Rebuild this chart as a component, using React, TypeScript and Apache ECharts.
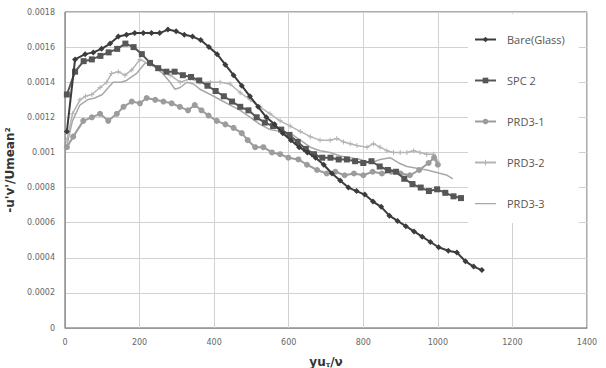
import React, { useEffect, useRef } from "react";
import * as echarts from "echarts";

// ---- Data ----
const bareX = [5, 27, 54, 76, 98, 121, 143, 165, 187, 210, 232, 254, 276, 298, 320, 342, 364, 386, 408, 430, 452, 474, 496, 518, 540, 562, 584, 606, 628, 650, 672, 694, 716, 738, 760, 782, 804, 826, 848, 870, 892, 914, 936, 958, 980, 1002, 1028, 1051, 1074, 1096, 1118];
const bareY = [0.00112, 0.00153, 0.00156, 0.00157, 0.00159, 0.00162, 0.00166, 0.00167, 0.00168, 0.00168, 0.00168, 0.00168, 0.0017, 0.00169, 0.00167, 0.00166, 0.00164, 0.0016, 0.00156, 0.0015, 0.00144, 0.00138, 0.00132, 0.00126, 0.0012, 0.00116, 0.00111, 0.00107, 0.00103, 0.001, 0.00097, 0.00093, 0.00088, 0.00084, 0.0008, 0.00078, 0.00076, 0.00072, 0.00069, 0.00064, 0.00061, 0.00058, 0.00055, 0.00052, 0.00049, 0.00046, 0.00044, 0.00043, 0.00038, 0.00035, 0.00033];

const spcX = [5, 27, 50, 72, 95, 117, 140, 162, 184, 206, 228, 250, 272, 294, 316, 338, 360, 382, 404, 426, 448, 470, 492, 514, 536, 558, 580, 602, 624, 646, 668, 690, 712, 734, 756, 778, 800, 822, 844, 866, 888, 910, 932, 954, 976, 998, 1020, 1042, 1062];
const spcY = [0.00133, 0.00146, 0.00152, 0.00153, 0.00155, 0.00157, 0.00159, 0.00162, 0.0016, 0.00156, 0.00151, 0.00148, 0.00146, 0.00146, 0.00144, 0.00143, 0.00141, 0.00138, 0.00135, 0.00132, 0.00129, 0.00126, 0.00124, 0.0012, 0.00117, 0.00115, 0.00113, 0.0011, 0.00106, 0.00102, 0.00099, 0.00097, 0.00097, 0.00096, 0.00096, 0.00095, 0.00094, 0.00095, 0.00092, 0.0009, 0.00089, 0.00085, 0.00082, 0.0008, 0.00078, 0.00079, 0.00077, 0.00075, 0.00074];

const prd1X = [5, 22, 49, 72, 94, 116, 139, 157, 179, 201, 219, 242, 264, 286, 308, 330, 348, 366, 385, 407, 430, 452, 474, 490, 510, 532, 555, 577, 599, 626, 649, 676, 702, 725, 750, 775, 800, 825, 850, 875, 900, 925, 950, 975, 990, 1000];
const prd1Y = [0.00103, 0.00109, 0.00118, 0.0012, 0.00122, 0.00118, 0.00122, 0.00126, 0.00129, 0.00128, 0.00131, 0.0013, 0.00129, 0.00128, 0.00126, 0.00124, 0.00127, 0.00124, 0.00121, 0.00118, 0.00116, 0.00114, 0.00111, 0.00107, 0.00103, 0.00103, 0.001, 0.00099, 0.00097, 0.00096, 0.00093, 0.0009, 0.00088, 0.00089, 0.00087, 0.00088, 0.00087, 0.00089, 0.00088, 0.00089, 0.00088, 0.00087, 0.0009, 0.00094, 0.00097, 0.00093];

const prd2X = [5, 20, 40, 55, 72, 94, 112, 125, 143, 161, 179, 201, 228, 255, 282, 309, 336, 362, 390, 416, 443, 470, 497, 523, 550, 577, 604, 631, 658, 684, 711, 729, 747, 765, 783, 810, 827, 845, 863, 881, 899, 917, 935, 952, 970, 989, 998];
const prd2Y = [0.00107, 0.00122, 0.0013, 0.00132, 0.00133, 0.00137, 0.0014, 0.00145, 0.00146, 0.00144, 0.00147, 0.00153, 0.0015, 0.00147, 0.00144, 0.0014, 0.00142, 0.0014, 0.0014, 0.0014, 0.00139, 0.00134, 0.0013, 0.00126, 0.00122, 0.00118, 0.00115, 0.00112, 0.00109, 0.00107, 0.00107, 0.00108, 0.00106, 0.00105, 0.00104, 0.00103, 0.00105, 0.00103, 0.00101, 0.001, 0.001, 0.001, 0.00101, 0.001, 0.00099, 0.00099, 0.00095];

const prd3X = [5, 20, 40, 60, 80, 100, 129, 150, 165, 192, 215, 240, 262, 282, 295, 309, 327, 345, 362, 390, 416, 443, 470, 497, 523, 550, 577, 604, 631, 658, 684, 711, 738, 765, 792, 819, 845, 872, 895, 917, 944, 971, 1007, 1025, 1040];
const prd3Y = [0.00104, 0.00118, 0.00127, 0.0013, 0.00131, 0.00133, 0.0014, 0.0014, 0.00141, 0.00145, 0.00151, 0.00149, 0.00145, 0.0014, 0.00136, 0.00137, 0.0014, 0.00139, 0.00136, 0.00133, 0.0013, 0.00127, 0.00124, 0.0012, 0.00116, 0.00113, 0.00112, 0.00111, 0.00107, 0.00103, 0.00101, 0.001, 0.00098, 0.00097, 0.00096, 0.00094, 0.00096, 0.00097, 0.00094, 0.00092, 0.00091, 0.0009, 0.00088, 0.00087, 0.00085];

const seriesNames = ["Bare(Glass)", "SPC 2", "PRD3-1", "PRD3-2", "PRD3-3"];
const xTicks = [0, 200, 400, 600, 800, 1000, 1200, 1400];
const yTicks = [0, 0.0002, 0.0004, 0.0006, 0.0008, 0.001, 0.0012, 0.0014, 0.0016, 0.0018];

const zip = (xs: number[], ys: number[]) => xs.map((x, i) => [x, ys[i]]);

const PLUS = "path://M4,0h2v4h4v2h-4v4h-2v-4h-4v-2h4z";
const LINE_ONLY = "path://M0,0h0.01v0.01h-0.01zM0,3h21v1.3h-21zM0,7h0.01v0.01h-0.01z";

export default function App() {
  const ref = useRef<HTMLDivElement>(null);
  useEffect(() => {
    if (!ref.current) return;
    const chart = echarts.init(ref.current, null, { renderer: "svg" });
    const font = "DejaVu Sans";
    const mk = (
      name: string,
      data: number[][],
      color: string,
      width: number,
      symbol: string,
      size: number,
      z: number
    ) => ({
      name,
      type: "line",
      data,
      z,
      showSymbol: symbol !== "none",
      symbol,
      symbolSize: size,
      lineStyle: { color, width },
      itemStyle: { color, borderWidth: 0 },
      emphasis: { disabled: true },
    });
    chart.setOption({
      animation: false,
      backgroundColor: "#ffffff",
      grid: {
        left: 65,
        top: 12,
        width: 522,
        height: 316,
        show: true,
        borderColor: "#5a5a5a",
        borderWidth: 1,
        backgroundColor: "transparent",
        outerBoundsMode: "none",
        containLabel: false,
      },
      legend: {
        orient: "vertical",
        left: 468,
        top: 14,
        padding: [20, 14, 14, 6],
        backgroundColor: "#ffffff",
        itemWidth: 21,
        itemHeight: 7,
        itemGap: 30,
        data: [
          { name: seriesNames[0] },
          { name: seriesNames[1] },
          { name: seriesNames[2] },
          { name: seriesNames[3] },
          { name: seriesNames[4], icon: LINE_ONLY },
        ],
        textStyle: {
          fontFamily: "Open Sans",
          fontSize: 11,
          color: "#555555",
          padding: [0, 0, 0, 6],
        },
      },
      xAxis: {
        type: "value",
        min: xTicks[0],
        max: xTicks[xTicks.length - 1],
        interval: 200,
        name: "{a|yu}{s|τ}{a|/ν}",
        nameLocation: "middle",
        nameGap: 27,
        nameTextStyle: {
          rich: {
            a: { fontFamily: font, fontSize: 12, fontWeight: "bold", color: "#333" },
            s: { fontFamily: font, fontSize: 7, fontWeight: "bold", color: "#333", verticalAlign: "bottom", padding: [6, 0, 0, 0] },
          },
        },
        axisLine: { show: true, lineStyle: { color: "#999999" } },
        axisTick: { show: false },
        axisLabel: {
          fontFamily: font,
          fontSize: 8,
          color: "#666666",
          margin: 10,
          formatter: (v: number) => String(v),
        },
        splitLine: { show: true, lineStyle: { color: "#d2d2d2", width: 1 } },
      },
      yAxis: {
        type: "value",
        min: yTicks[0],
        max: yTicks[yTicks.length - 1],
        interval: 0.0002,
        name: "-u'v'/Umean²",
        nameLocation: "middle",
        nameGap: 48,
        nameRotate: 90,
        nameTextStyle: { fontFamily: font, fontSize: 12, fontWeight: "bold", color: "#333" },
        axisLine: { show: true, lineStyle: { color: "#999999" } },
        axisTick: { show: false },
        axisLabel: {
          fontFamily: font,
          fontSize: 8,
          color: "#666666",
          margin: 10,
          formatter: (v: number) => String(+v.toFixed(4)),
        },
        splitLine: { show: true, lineStyle: { color: "#d2d2d2", width: 1 } },
      },
      series: [
        mk(seriesNames[4], zip(prd3X, prd3Y), "#a8a8a8", 1.5, "none", 0, 2),
        mk(seriesNames[3], zip(prd2X, prd2Y), "#b4b4b4", 1.5, PLUS, 5, 3),
        mk(seriesNames[2], zip(prd1X, prd1Y), "#9c9c9c", 2, "circle", 6, 4),
        mk(seriesNames[1], zip(spcX, spcY), "#565656", 2, "rect", 6, 5),
        mk(seriesNames[0], zip(bareX, bareY), "#3c3c3c", 2, "diamond", 6, 6),
      ],
    });
    return () => chart.dispose();
  }, []);
  return (
    <div
      ref={ref}
      style={{ position: "fixed", left: 0, top: 0, width: 606, height: 368 }}
    />
  );
}
